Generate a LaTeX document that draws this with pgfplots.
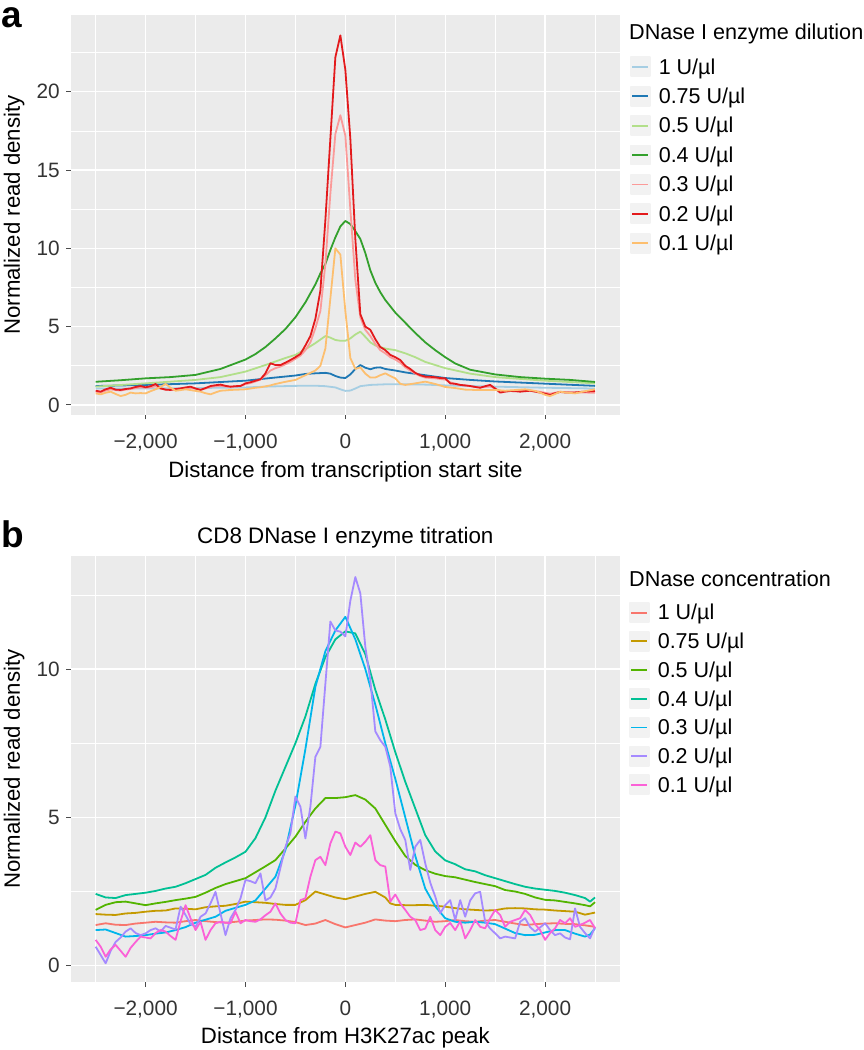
\documentclass[border=0pt]{standalone}
\usepackage{fontspec}
\setmainfont{Liberation Sans}
\usepackage{pgfplots}
\pgfplotsset{compat=1.18}
\definecolor{ggbg}{HTML}{EBEBEB}
\definecolor{ggkey}{HTML}{F2F2F2}
\definecolor{pa1}{HTML}{A6CEE3}
\definecolor{pa2}{HTML}{1F78B4}
\definecolor{pa3}{HTML}{B2DF8A}
\definecolor{pa4}{HTML}{33A02C}
\definecolor{pa5}{HTML}{FB9A99}
\definecolor{pa6}{HTML}{E31A1C}
\definecolor{pa7}{HTML}{FDBF6F}
\definecolor{pb1}{HTML}{F8766D}
\definecolor{pb2}{HTML}{C49A00}
\definecolor{pb3}{HTML}{53B400}
\definecolor{pb4}{HTML}{00C094}
\definecolor{pb5}{HTML}{00B6EB}
\definecolor{pb6}{HTML}{A58AFF}
\definecolor{pb7}{HTML}{FB61D7}
\pgfplotsset{
  gg/.style={
    scale only axis, width=549.3pt,
    xmin=-2750, xmax=2750,
    axis background/.style={fill=ggbg},
    axis line style={draw=none},
    grid=both,
    major grid style={draw=white, line width=1.3pt},
    minor grid style={draw=white, line width=0.65pt},
    xtick={-2000,-1000,0,1000,2000},
    xticklabels={{−2,000},{−1,000},{0},{1,000},{2,000}},
    minor xtick={-2500,-1500,-500,500,1500,2500},
    xtick pos=bottom, ytick pos=left,
    tick align=outside, major tick length=4.5pt, minor tick length=0pt,
    tick style={draw=black!70, line width=1pt},
    xticklabel style={font=\fontsize{20.8}{22}\selectfont, text=black!80, anchor=north, inner sep=0pt, text height=14.9pt, yshift=-13.8pt},
    yticklabel style={font=\fontsize{20.8}{22}\selectfont, text=black!80, anchor=east, inner sep=0pt, xshift=-6.2pt},
    label style={font=\fontsize{22.2}{25}\selectfont},
    ylabel style={at={(axis description cs:-0.0923,0.5)}, anchor=base},
    no markers,
    every axis plot/.append style={line width=1.8pt, line join=round},
    legend cell align=left,
    legend image code/.code={
      \fill[ggkey] (0pt,-9.5pt) rectangle (19pt,9.5pt);
      \draw[##1, line width=1.8pt] (1.5pt,0pt) -- (17.5pt,0pt);
    },
  }
}
\begin{document}
\begin{tikzpicture}[x=1pt,y=1pt]
\useasboundingbox (0,0) rectangle (864,1050);
% ---------------- panel a ----------------
\begin{axis}[gg,
  at={(70.7pt,635pt)}, anchor=south west,
  height=400pt, ymin=-0.64, ymax=24.9,
  ytick={0,5,10,15,20}, yticklabels={0,5,10,15,20},
  minor ytick={2.5,7.5,12.5,17.5,22.5},
  xlabel={Distance from transcription start site},
  xlabel style={at={(axis description cs:0.5,-0.1575)}, anchor=base},
  ylabel={Normalized read density},
  legend style={draw=none, fill=none, inner sep=0pt, outer sep=0pt,
    row sep=8.6pt, column sep=8pt, anchor=north west, at={(1.0182,0.8963)},
    font=\fontsize{21.5}{23}\selectfont,
    nodes={inner xsep=0pt, inner ysep=2pt, text height=14.6pt, text depth=0pt}},
]
\addplot[pa1] coordinates {(-2500,1.05) (-2000,1.05) (-1500,1.08) (-1000,1.12) (-750,1.18) (-500,1.22) (-300,1.23) (-200,1.2) (-100,1.12) (-50,1.0) (0,0.9) (50,0.92) (100,1.05) (150,1.2) (250,1.28) (400,1.32) (600,1.32) (800,1.3) (1000,1.25) (1500,1.17) (2000,1.1) (2500,1.05)};
\addlegendentry{1 U/µl}
\addplot[pa2] coordinates {(-2500,1.21) (-2000,1.28) (-1500,1.38) (-1000,1.55) (-750,1.72) (-500,1.88) (-400,1.98) (-300,2.02) (-200,2.05) (-150,2.0) (-100,1.85) (-50,1.75) (0,1.72) (50,1.95) (100,2.3) (150,2.55) (200,2.38) (250,2.28) (300,2.38) (350,2.4) (400,2.3) (500,2.2) (600,2.08) (800,1.9) (1000,1.72) (1250,1.6) (1500,1.5) (2000,1.36) (2500,1.22)};
\addlegendentry{0.75 U/µl}
\addplot[pa3] coordinates {(-2500,1.17) (-2000,1.38) (-1500,1.6) (-1250,1.78) (-1000,2.13) (-800,2.55) (-600,3.0) (-500,3.2) (-400,3.55) (-300,3.95) (-200,4.4) (-150,4.3) (-100,4.15) (-50,4.1) (0,4.1) (50,4.25) (100,4.5) (150,4.68) (200,4.35) (250,4.0) (300,3.8) (400,3.6) (500,3.5) (600,3.3) (700,3.05) (800,2.75) (1000,2.35) (1250,2.0) (1500,1.78) (2000,1.55) (2500,1.38)};
\addlegendentry{0.5 U/µl}
\addplot[pa4] coordinates {(-2500,1.48) (-2250,1.58) (-2000,1.70) (-1750,1.78) (-1500,1.92) (-1250,2.3) (-1000,2.9) (-900,3.25) (-800,3.7) (-700,4.25) (-600,4.85) (-500,5.6) (-400,6.55) (-300,7.7) (-250,8.4) (-200,9.0) (-150,9.9) (-100,10.7) (-50,11.4) (0,11.75) (50,11.55) (100,11.1) (150,10.6) (200,9.7) (250,8.6) (300,7.8) (350,7.2) (400,6.7) (500,5.9) (600,5.25) (700,4.6) (800,4.0) (900,3.5) (1000,3.05) (1100,2.65) (1250,2.25) (1500,1.95) (1750,1.78) (2000,1.68) (2250,1.6) (2500,1.47)};
\addlegendentry{0.4 U/µl}
\addplot[pa5] coordinates {(-2500,0.85) (-2450,0.8) (-2400,0.92) (-2350,1.0) (-2300,0.95) (-2250,0.92) (-2200,0.98) (-2150,1.02) (-2100,1.08) (-2050,1.12) (-2000,1.1) (-1950,1.12) (-1900,1.2) (-1850,1.05) (-1800,0.98) (-1750,0.96) (-1700,1.0) (-1650,1.04) (-1600,1.08) (-1550,1.1) (-1500,1.04) (-1450,0.98) (-1400,1.05) (-1350,1.15) (-1300,1.2) (-1250,1.22) (-1200,1.18) (-1150,1.15) (-1100,1.18) (-1050,1.22) (-1000,1.32) (-950,1.4) (-900,1.5) (-850,1.62) (-800,1.9) (-750,2.2) (-700,2.35) (-650,2.45) (-600,2.6) (-550,2.75) (-500,2.95) (-450,3.15) (-400,3.5) (-350,4.0) (-300,4.9) (-250,6.0) (-200,9.0) (-150,13.5) (-100,17.3) (-50,18.5) (0,17.2) (50,12.5) (100,8.0) (150,5.6) (200,4.8) (250,4.4) (300,3.9) (350,3.5) (400,3.3) (450,3.05) (500,2.9) (550,2.7) (600,2.4) (650,2.2) (700,2.0) (750,1.85) (800,1.75) (850,1.72) (900,1.7) (950,1.66) (1000,1.62) (1050,1.45) (1100,1.35) (1150,1.28) (1200,1.24) (1250,1.2) (1300,1.15) (1350,1.12) (1400,1.15) (1450,1.18) (1500,1.05) (1550,0.9) (1600,0.88) (1650,0.9) (1700,0.9) (1750,0.88) (1800,0.9) (1850,0.92) (1900,0.88) (1950,0.84) (2000,0.78) (2050,0.72) (2100,0.78) (2150,0.84) (2200,0.82) (2250,0.8) (2300,0.8) (2350,0.8) (2400,0.8) (2450,0.78) (2500,0.78)};
\addlegendentry{0.3 U/µl}
\addplot[pa6] coordinates {(-2500,0.91) (-2450,0.85) (-2400,1.0) (-2350,1.1) (-2300,0.98) (-2250,0.96) (-2200,1.02) (-2150,1.06) (-2100,1.15) (-2050,1.21) (-2000,1.13) (-1950,1.2) (-1900,1.34) (-1850,1.06) (-1800,0.98) (-1750,0.96) (-1700,1.02) (-1650,1.06) (-1600,1.12) (-1550,1.17) (-1500,1.05) (-1450,0.96) (-1400,1.08) (-1350,1.21) (-1300,1.26) (-1250,1.3) (-1200,1.22) (-1150,1.17) (-1100,1.2) (-1050,1.21) (-1000,1.38) (-950,1.45) (-900,1.55) (-850,1.64) (-800,2.02) (-750,2.66) (-700,2.55) (-650,2.55) (-600,2.7) (-550,2.87) (-500,3.05) (-450,3.26) (-400,3.8) (-350,4.4) (-300,5.5) (-250,7.3) (-200,11.8) (-150,17.0) (-100,22.2) (-50,23.6) (0,21.4) (50,17.0) (100,10.6) (150,5.8) (200,5.0) (250,4.8) (300,4.2) (350,3.7) (400,3.5) (450,3.2) (500,3.05) (550,2.87) (600,2.5) (650,2.3) (700,2.05) (750,1.9) (800,1.81) (850,1.8) (900,1.77) (950,1.72) (1000,1.7) (1050,1.38) (1100,1.35) (1150,1.28) (1200,1.25) (1250,1.21) (1300,1.15) (1350,1.1) (1400,1.2) (1450,1.28) (1500,1.05) (1550,0.79) (1600,0.85) (1650,0.89) (1700,0.88) (1750,0.85) (1800,0.88) (1850,0.91) (1900,0.85) (1950,0.79) (2000,0.72) (2050,0.64) (2100,0.75) (2150,0.83) (2200,0.8) (2250,0.79) (2300,0.8) (2350,0.83) (2400,0.85) (2450,0.87) (2500,0.89)};
\addlegendentry{0.2 U/µl}
\addplot[pa7] coordinates {(-2500,0.74) (-2450,0.68) (-2400,0.78) (-2350,0.85) (-2300,0.7) (-2250,0.57) (-2200,0.65) (-2150,0.79) (-2100,0.74) (-2050,0.76) (-2000,0.74) (-1950,0.88) (-1900,1.0) (-1850,1.15) (-1800,1.34) (-1750,1.1) (-1700,0.91) (-1650,0.95) (-1600,1.0) (-1550,0.95) (-1500,0.9) (-1450,0.85) (-1400,0.75) (-1350,0.68) (-1300,0.8) (-1250,0.91) (-1200,0.93) (-1150,0.96) (-1100,0.97) (-1000,1.0) (-900,1.1) (-850,1.13) (-750,1.25) (-700,1.34) (-600,1.48) (-500,1.6) (-400,1.9) (-300,2.2) (-250,2.5) (-200,3.6) (-150,6.8) (-100,10.0) (-50,9.6) (0,6.0) (50,3.0) (100,2.3) (150,2.4) (200,2.0) (250,1.75) (300,1.75) (350,1.9) (400,2.02) (450,1.85) (500,1.7) (550,1.35) (600,1.28) (700,1.38) (800,1.49) (900,1.34) (1000,1.15) (1100,1.08) (1200,0.98) (1300,0.96) (1400,0.96) (1500,0.96) (1600,0.91) (1700,0.95) (1800,1.0) (1900,0.9) (1950,0.79) (2000,0.65) (2050,0.57) (2100,0.7) (2150,0.85) (2200,0.8) (2300,0.74) (2400,0.88) (2500,1.0)};
\addlegendentry{0.1 U/µl}
\end{axis}
% ---------------- panel b ----------------
\begin{axis}[gg,
  at={(70.7pt,67.7pt)}, anchor=south west,
  height=426pt, ymin=-0.56, ymax=13.8,
  ytick={0,5,10}, yticklabels={0,5,10},
  minor ytick={2.5,7.5,12.5},
  xlabel={Distance from H3K27ac peak},
  xlabel style={at={(axis description cs:0.5,-0.1448)}, anchor=base},
  ylabel={Normalized read density},
  title={CD8 DNase I enzyme titration},
  title style={at={(axis description cs:0.5,1.0164)}, anchor=base, font=\fontsize{22.4}{25}\selectfont},
  legend style={draw=none, fill=none, inner sep=0pt, outer sep=0pt,
    row sep=7.9pt, column sep=8pt, anchor=north west, at={(1.0164,0.8922)},
    font=\fontsize{21.5}{23}\selectfont,
    nodes={inner xsep=0pt, inner ysep=2pt, text height=14.6pt, text depth=0pt}},
]
\addplot[pb1] coordinates {(-2500,1.37) (-2400,1.43) (-2300,1.38) (-2200,1.37) (-2100,1.42) (-2000,1.45) (-1900,1.48) (-1800,1.46) (-1700,1.45) (-1600,1.5) (-1500,1.54) (-1400,1.5) (-1300,1.47) (-1200,1.45) (-1100,1.48) (-1000,1.52) (-900,1.54) (-800,1.56) (-700,1.55) (-600,1.52) (-500,1.47) (-400,1.37) (-300,1.42) (-200,1.54) (-100,1.4) (0,1.29) (100,1.37) (200,1.45) (300,1.56) (400,1.52) (500,1.5) (600,1.54) (700,1.56) (800,1.52) (900,1.48) (1000,1.5) (1100,1.54) (1200,1.5) (1300,1.48) (1400,1.52) (1500,1.54) (1600,1.48) (1700,1.42) (1800,1.37) (1900,1.4) (2000,1.42) (2100,1.43) (2200,1.41) (2300,1.4) (2400,1.36) (2500,1.31)};
\addlegendentry{1 U/µl}
\addplot[pb2] coordinates {(-2500,1.74) (-2400,1.72) (-2300,1.71) (-2200,1.76) (-2100,1.78) (-2000,1.82) (-1900,1.85) (-1800,1.86) (-1700,1.93) (-1600,1.92) (-1500,1.9) (-1400,1.97) (-1300,2.0) (-1200,2.02) (-1100,2.08) (-1000,2.16) (-900,2.14) (-800,2.12) (-700,2.08) (-600,2.05) (-500,2.05) (-400,2.21) (-300,2.5) (-200,2.4) (-100,2.3) (0,2.24) (100,2.33) (200,2.42) (300,2.49) (400,2.3) (450,2.1) (500,2.05) (600,2.04) (700,2.04) (800,2.05) (900,2.02) (1000,1.99) (1100,1.94) (1200,1.9) (1300,1.88) (1400,1.86) (1500,1.87) (1600,1.93) (1700,1.94) (1800,1.93) (1900,1.9) (2000,1.89) (2100,1.86) (2200,1.84) (2300,1.82) (2400,1.72) (2500,1.79)};
\addlegendentry{0.75 U/µl}
\addplot[pb3] coordinates {(-2500,1.88) (-2400,2.05) (-2300,2.14) (-2200,2.16) (-2100,2.1) (-2000,2.04) (-1900,2.1) (-1800,2.15) (-1700,2.21) (-1600,2.26) (-1500,2.32) (-1400,2.46) (-1300,2.62) (-1200,2.75) (-1100,2.85) (-1000,2.95) (-900,3.15) (-800,3.35) (-700,3.56) (-600,3.95) (-500,4.35) (-400,4.85) (-300,5.3) (-200,5.65) (-100,5.65) (0,5.68) (100,5.75) (200,5.6) (300,5.3) (400,4.75) (500,4.2) (600,3.7) (700,3.4) (800,3.22) (900,3.1) (1000,3.02) (1100,2.98) (1200,2.9) (1300,2.82) (1400,2.75) (1500,2.68) (1600,2.55) (1700,2.5) (1800,2.42) (1900,2.3) (2000,2.22) (2100,2.2) (2200,2.15) (2300,2.1) (2400,2.04) (2450,2.0) (2500,2.14)};
\addlegendentry{0.5 U/µl}
\addplot[pb4] coordinates {(-2500,2.42) (-2400,2.3) (-2300,2.28) (-2200,2.38) (-2100,2.42) (-2000,2.46) (-1900,2.52) (-1800,2.6) (-1700,2.66) (-1600,2.78) (-1500,2.92) (-1400,3.06) (-1300,3.3) (-1200,3.48) (-1100,3.65) (-1000,3.84) (-900,4.3) (-800,5.0) (-700,5.9) (-600,6.7) (-500,7.5) (-400,8.4) (-300,9.5) (-200,10.4) (-100,11.0) (0,11.27) (100,11.2) (200,10.5) (300,9.3) (400,8.3) (500,7.2) (600,6.2) (700,5.3) (800,4.4) (900,3.85) (1000,3.55) (1100,3.42) (1200,3.25) (1300,3.18) (1400,3.05) (1500,2.95) (1600,2.85) (1700,2.75) (1800,2.66) (1900,2.6) (2000,2.56) (2100,2.52) (2200,2.46) (2300,2.38) (2400,2.28) (2450,2.16) (2500,2.3)};
\addlegendentry{0.4 U/µl}
\addplot[pb5] coordinates {(-2500,1.2) (-2400,1.22) (-2300,1.1) (-2200,0.98) (-2100,1.0) (-2000,1.03) (-1900,1.08) (-1800,1.12) (-1700,1.2) (-1600,1.3) (-1500,1.45) (-1400,1.55) (-1300,1.65) (-1200,1.85) (-1100,1.95) (-1000,2.05) (-900,2.2) (-800,2.6) (-700,3.0) (-600,3.9) (-500,5.4) (-400,7.3) (-300,9.4) (-200,10.6) (-100,11.3) (0,11.76) (100,11.0) (200,10.0) (300,8.8) (400,7.5) (500,6.3) (600,5.0) (700,3.7) (800,2.6) (900,2.0) (1000,1.6) (1100,1.48) (1200,1.45) (1300,1.48) (1400,1.45) (1500,1.4) (1600,1.25) (1700,1.1) (1800,1.03) (1900,1.04) (2000,1.12) (2100,1.2) (2200,1.2) (2300,1.08) (2400,0.98) (2450,1.05) (2500,1.26)};
\addlegendentry{0.3 U/µl}
\addplot[pb6] coordinates {(-2500,0.64) (-2450,0.36) (-2400,0.08) (-2350,0.5) (-2300,0.8) (-2250,0.95) (-2200,1.15) (-2150,1.26) (-2100,1.1) (-2050,1.03) (-2000,1.09) (-1950,1.2) (-1900,1.26) (-1850,1.15) (-1800,1.34) (-1750,1.28) (-1700,1.22) (-1650,1.99) (-1600,1.71) (-1550,1.4) (-1500,1.31) (-1450,1.65) (-1400,1.76) (-1350,2.1) (-1300,2.49) (-1250,1.76) (-1200,1.03) (-1150,1.6) (-1100,1.88) (-1050,2.27) (-1000,2.89) (-950,2.85) (-900,2.78) (-850,3.11) (-800,2.2) (-750,2.3) (-700,2.6) (-650,3.3) (-600,4.0) (-550,4.46) (-500,5.7) (-450,5.36) (-400,4.29) (-350,5.36) (-300,7.04) (-250,7.38) (-200,9.5) (-150,11.6) (-100,11.3) (-50,11.26) (0,11.1) (50,12.3) (100,13.1) (150,12.55) (200,10.75) (250,9.63) (300,7.9) (350,7.6) (400,7.38) (450,6.71) (500,5.14) (550,4.6) (600,4.24) (650,3.23) (700,4.01) (750,4.24) (800,3.45) (850,2.8) (900,2.33) (950,1.77) (1000,2.04) (1050,2.21) (1100,1.54) (1150,2.21) (1200,1.65) (1250,2.2) (1300,2.44) (1350,2.49) (1400,1.48) (1450,1.25) (1500,1.09) (1550,0.92) (1600,0.98) (1650,0.95) (1700,0.92) (1750,1.48) (1800,1.6) (1850,1.3) (1900,1.15) (1950,1.29) (2000,1.43) (2050,1.2) (2100,1.03) (2150,1.09) (2200,0.95) (2250,0.89) (2300,1.93) (2350,1.31) (2400,1.1) (2450,0.92) (2500,1.31)};
\addlegendentry{0.2 U/µl}
\addplot[pb7] coordinates {(-2500,0.87) (-2450,0.64) (-2400,0.3) (-2350,0.55) (-2300,0.7) (-2250,0.5) (-2200,0.3) (-2150,0.6) (-2100,0.8) (-2050,0.98) (-2000,0.95) (-1950,0.92) (-1900,1.1) (-1850,1.2) (-1800,1.15) (-1750,1.0) (-1700,0.87) (-1650,1.5) (-1600,2.04) (-1550,1.6) (-1500,1.2) (-1450,1.48) (-1400,0.87) (-1350,1.2) (-1300,1.43) (-1250,1.48) (-1200,1.45) (-1150,1.43) (-1100,1.82) (-1050,1.43) (-1000,1.54) (-950,1.5) (-900,1.48) (-850,1.56) (-800,1.7) (-750,1.82) (-700,2.1) (-650,1.76) (-600,1.54) (-550,1.45) (-500,1.43) (-450,2.21) (-400,2.27) (-350,3.0) (-300,3.56) (-250,3.67) (-200,3.39) (-150,4.12) (-100,4.52) (-50,4.46) (0,4.01) (50,3.73) (100,4.15) (150,4.01) (200,4.18) (250,4.4) (300,3.56) (350,3.39) (400,3.34) (450,2.16) (500,2.4) (550,2.1) (600,1.88) (650,1.65) (700,1.54) (750,1.2) (800,1.25) (850,1.65) (900,1.2) (950,1.03) (1000,1.31) (1050,1.44) (1100,1.2) (1150,1.5) (1200,0.92) (1250,1.2) (1300,1.54) (1350,1.31) (1400,1.26) (1450,1.6) (1500,1.88) (1550,1.71) (1600,1.31) (1650,1.48) (1700,1.54) (1750,1.6) (1800,1.88) (1850,1.71) (1900,1.4) (1950,1.2) (2000,0.87) (2050,1.1) (2100,1.26) (2150,1.54) (2200,1.43) (2250,1.6) (2300,1.31) (2350,1.37) (2400,1.45) (2450,1.54) (2500,1.26)};
\addlegendentry{0.1 U/µl}
\end{axis}
% legend titles and panel letters
\node[anchor=base west, inner sep=0pt, font=\fontsize{21.6}{24}\selectfont] at (629,1010) {DNase I enzyme dilution};
\node[anchor=base west, inner sep=0pt, font=\fontsize{21.6}{24}\selectfont] at (629,463.3) {DNase concentration};
\node[anchor=base west, inner sep=0pt, font=\fontsize{37}{40}\selectfont\bfseries] at (1,1022) {a};
\node[anchor=base west, inner sep=0pt, font=\fontsize{37}{40}\selectfont\bfseries] at (1,502) {b};
\end{tikzpicture}
\end{document}
